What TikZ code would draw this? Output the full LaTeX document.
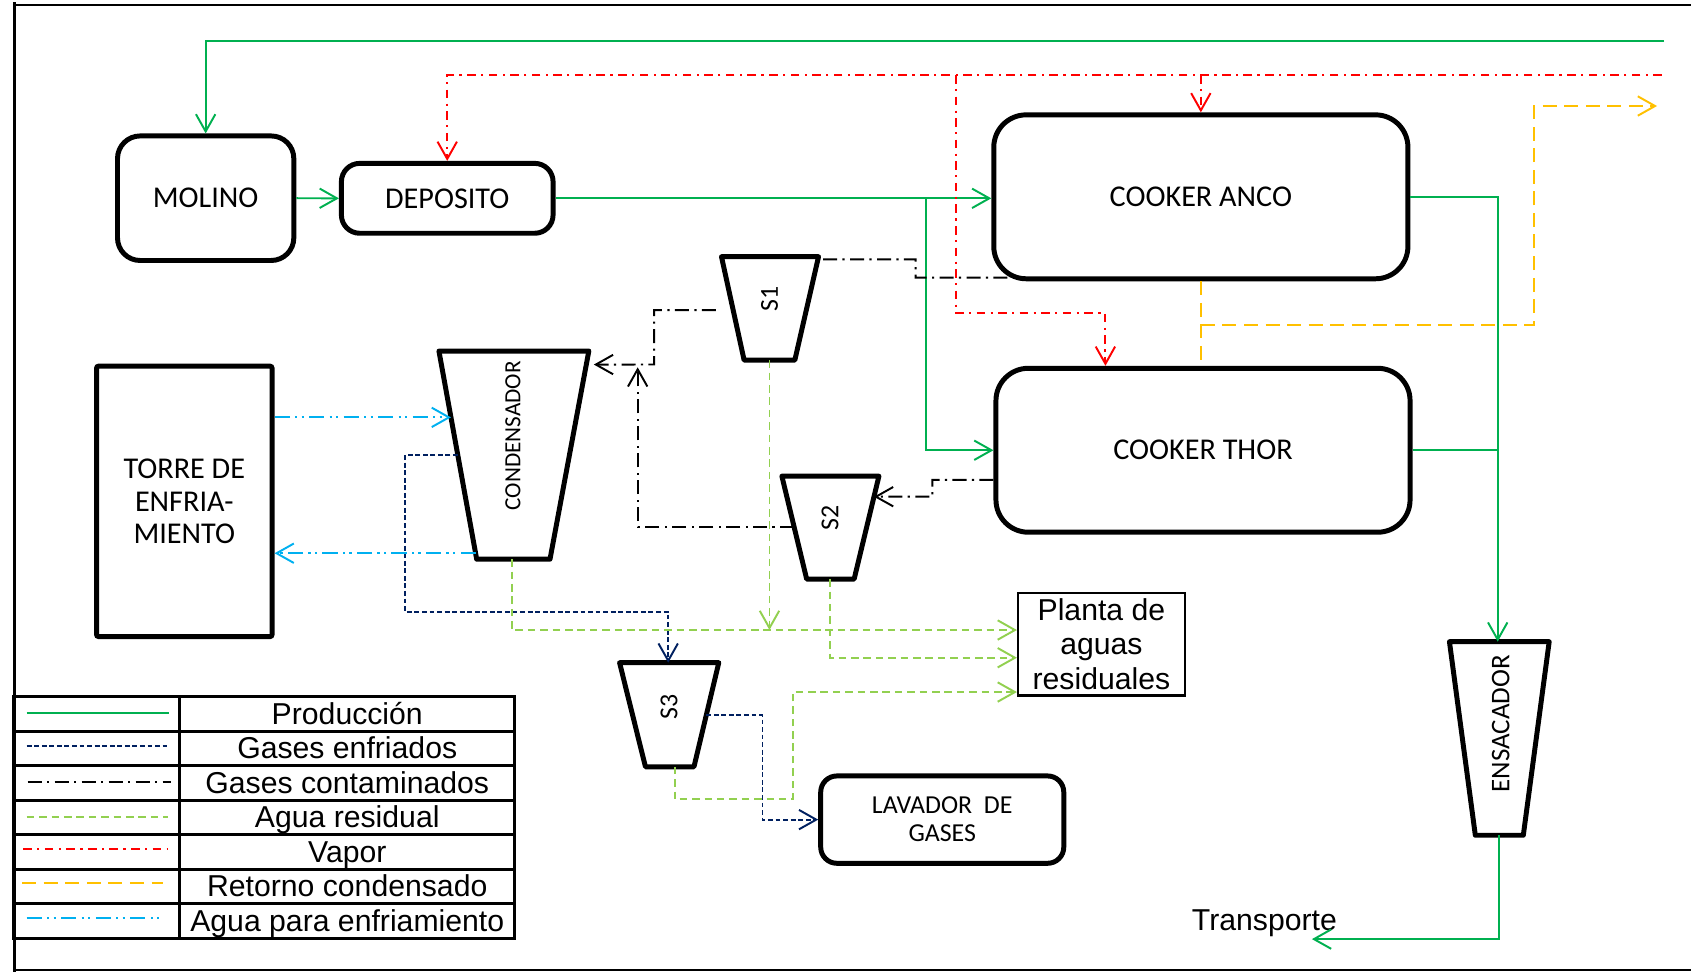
\documentclass[tikz,border=0pt]{standalone}
\usepackage{fontspec}
\setmainfont{Carlito}
\newfontfamily\arialfont{Liberation Sans}
\usetikzlibrary{arrows.meta,calc}
\definecolor{prodgreen}{RGB}{0,176,80}
\definecolor{gasnavy}{RGB}{0,32,96}
\definecolor{wastegreen}{RGB}{146,208,80}
\definecolor{steamred}{RGB}{255,0,0}
\definecolor{condorange}{RGB}{255,192,0}
\definecolor{coolblue}{RGB}{0,176,240}
\tikzset{
  procbox/.style={draw, fill=white, line width=4.6pt, align=center, inner sep=0pt,
    font=\fontsize{28}{30}\selectfont},
  vessel/.style={draw, fill=white, line width=4.6pt, line join=round},
  vlabel/.style={rotate=90, inner sep=0pt, font=\fontsize{24}{24}\selectfont},
  flow/.style={line width=1.8pt},
  flowtip/.style={-{Straight Barb[length=16pt,width=18pt]}},
  prod/.style={flow, draw=prodgreen},
  cooled/.style={flow, draw=gasnavy, dash pattern=on 4.5pt off 2.5pt},
  dirty/.style={flow, draw=black, dash pattern=on 13pt off 5pt on 2pt off 5pt},
  waste/.style={flow, draw=wastegreen, dash pattern=on 7pt off 4.5pt},
  steam/.style={flow, draw=steamred, dash pattern=on 8pt off 5pt on 2pt off 5pt},
  condret/.style={flow, draw=condorange, dash pattern=on 13pt off 7pt},
  coolw/.style={flow, draw=coolblue, dash pattern=on 14pt off 5pt on 2pt off 4pt on 2pt off 5pt},
  legrule/.style={line width=2.7pt},
  legtext/.style={anchor=base, inner sep=0pt, font=\arialfont\fontsize{28}{30}\selectfont},
}
\begin{document}
\begin{tikzpicture}[x=1pt,y=-1pt]
\useasboundingbox (0,0) rectangle (1568,901);

% outer frame
\draw[line width=3.5pt] (13.5,2) -- (13.5,901);
\draw[line width=2pt] (12,4.3) -- (1568,4.3);
\draw[line width=2pt] (12,899.4) -- (1568,899.4);

% process units
\node[procbox, minimum width=163.5, minimum height=115.5, rounded corners=21] (molino) at (190.7,183.8) {MOLINO};
\node[procbox, minimum width=196.3, minimum height=64.8, rounded corners=17] (depo) at (414.7,183.9) {DEPOSITO};
\node[procbox, minimum width=384, minimum height=152, rounded corners=30] (anco) at (1113.5,182.5) {COOKER ANCO};
\node[procbox, minimum width=384, minimum height=152, rounded corners=30] (thor) at (1115.5,417.5) {COOKER THOR};
\node[procbox, minimum width=162.8, minimum height=250.8, rounded corners=2] (torre) at (170.9,464.9) {TORRE DE\\ENFRIA-\\MIENTO};
\node[procbox, minimum width=225.4, minimum height=81, rounded corners=15, font=\fontsize{24}{26}\selectfont] (lavador) at (873.7,760) {LAVADOR\ \ DE\\GASES};
\node[procbox, line width=2pt, minimum width=154.7, minimum height=95.3, font=\arialfont\fontsize{28}{32}\selectfont] (planta) at (1021.3,597.3) {Planta de\\aguas\\residuales};

% hoppers and separators
\draw[vessel] (407,325.5) coordinate (condTL) -- (546,325.5) coordinate (condTR) -- (510,518.5) coordinate (condBR) -- (442,518.5) coordinate (condBL) -- cycle;
\node[vlabel, font=\fontsize{21.5}{22}\selectfont] (cond) at (475.5,404) {CONDENSADOR};
\draw[vessel] (669,238) coordinate (s1TL) -- (759,238) coordinate (s1TR) -- (737,334) coordinate (s1BR) -- (690,334) coordinate (s1BL) -- cycle;
\node[vlabel] (s1) at (713.5,277.3) {S1};
\draw[vessel] (725,441.5) coordinate (s2TL) -- (815,441.5) coordinate (s2TR) -- (792,537) coordinate (s2BR) -- (748,537) coordinate (s2BL) -- cycle;
\node[vlabel] (s2) at (769.7,480.6) {S2};
\draw[vessel] (574.5,614.5) coordinate (s3TL) -- (666.5,614.5) coordinate (s3TR) -- (643.5,711) coordinate (s3BR) -- (598.5,711) coordinate (s3BL) -- cycle;
\node[vlabel] (s3) at (620.4,655.3) {S3};
\draw[vessel] (1344,595) coordinate (ensTL) -- (1436.5,595) coordinate (ensTR) -- (1412.5,774.5) coordinate (ensBR) -- (1368,774.5) coordinate (ensBL) -- cycle;
\node[vlabel, font=\fontsize{25}{25}\selectfont] (ens) at (1391.6,671) {ENSACADOR};

\node[legtext] (transporte) at (1172.4,862.7) {Transporte};

% production line
\coordinate (feedIn) at (1543,37.7);
\draw[prod,flowtip] (feedIn) -| (molino.north);
\draw[prod,flowtip] (molino.east) -- (depo.west);
\draw[prod,flowtip] (depo.east) -- (depo.east -| anco.west);
\coordinate (prodSplit) at (859,183.9);
\draw[prod,flowtip] (prodSplit) |- (thor.west);
\coordinate (ensIn) at ($(ensTL)!0.484!(ensTR)$);
\draw[prod,flowtip] (anco.east) -| (ensIn);
\draw[prod] (thor.east) -- (thor.east -| ensIn);
\coordinate (ensOut) at ($(ensBL)!0.49!(ensBR)$);
\coordinate (transIn) at (1216.5,870.8);
\draw[prod,flowtip] (ensOut) |- (transIn);

% steam
\coordinate (steamIn) at (1541,69.5);
\draw[steam,flowtip] (steamIn) -| (depo.north);
\draw[steam,flowtip] (anco.north |- steamIn) -- (anco.north);
\coordinate (steamSplit) at (886.5,69.5);
\coordinate (steamBend) at (1025,290.5);
\draw[steam,flowtip] (steamSplit) |- (steamBend) -- (steamBend |- thor.north);

% condensate return
\draw[condret] (anco.south) -- (anco.south |- thor.north);
\coordinate (retJoin) at (1113.5,301.4);
\coordinate (retUp) at (1422.5,98.3);
\coordinate (retOut) at (1536.5,98.3);
\draw[condret,flowtip] (retJoin) -| (retUp) -- (retOut);

% contaminated gases
\coordinate (ancoGas) at ($(anco.south west)+(15,-3.3)$);
\coordinate (s1GasIn) at ($(s1TR)!0.026!(s1BR)$);
\coordinate (gasKnee) at (849,240.5);
\draw[dirty] (ancoGas) -| (gasKnee) -- (s1GasIn);
\coordinate (s1GasOut) at ($(s1TL)!0.516!(s1BL)$);
\coordinate (condGasIn) at ($(condTR)!0.065!(condBR)$);
\coordinate (gasDrop) at (606.5,338);
\draw[dirty,flowtip,shorten <=16pt,shorten >=7pt] (s1GasOut) -| (gasDrop) -- (condGasIn);
\coordinate (s2GasOut) at ($(s2TL)!0.49!(s2BL)$);
\coordinate (gasRise) at (591.3,340.6);
\draw[dirty,flowtip] (s2GasOut) -| (gasRise);
\coordinate (thorGas) at ($(thor.west)+(0,27.5)$);
\coordinate (s2GasIn) at ($(s2TR)!0.2!(s2BR)$);
\coordinate (gasStep) at (864.5,460.5);
\draw[dirty,flowtip] (thorGas) -| (gasStep) -- (s2GasIn);

% cooled gases
\coordinate (condCool) at ($(condTL)!0.5!(condBL)$);
\coordinate (coolKnee) at (375.5,567.2);
\coordinate (s3In) at ($(s3TL)!0.49!(s3TR)$);
\draw[cooled,flowtip] (condCool) -| (coolKnee) -| (s3In);
\coordinate (s3Out) at ($(s3TR)!0.506!(s3BR)$);
\coordinate (lavKnee) at (707,760);
\draw[cooled,flowtip] (s3Out) -| (lavKnee) -- (lavador.west);

% waste water
\coordinate (condWaste) at ($(condBL)!0.48!(condBR)$);
\coordinate (wasteRow) at ($(planta.west)+(0,-13.1)$);
\draw[waste,flowtip] (condWaste) |- (wasteRow);
\coordinate (s1Waste) at ($(s1BL)!0.5!(s1BR)$);
\draw[waste,flowtip] (s1Waste) -- (s1Waste |- wasteRow);
\coordinate (s2Waste) at ($(s2BL)!0.5!(s2BR)$);
\draw[waste,flowtip] (s2Waste) |- ($(planta.west)+(0,12.6)$);
\coordinate (s3Waste) at ($(s3BL)!0.61!(s3BR)$);
\coordinate (wasteKnee) at (734.9,741.2);
\draw[waste,flowtip] (s3Waste) |- (wasteKnee) |- ($(planta.west)+(0,44.4)$);

% cooling water loop
\coordinate (condCoolIn) at ($(condTL)!0.3187!(condBL)$);
\draw[coolw,flowtip] (torre.east |- condCoolIn) -- (condCoolIn);
\coordinate (condCoolOut) at ($(condTL)!0.9715!(condBL)$);
\draw[coolw,flowtip] (condCoolOut) -- (condCoolOut -| torre.east);

% legend
\draw[legrule] (12.6,646) rectangle (476.9,870);
\foreach \yy in {678,710,742,774,806,838} \draw[legrule] (12.6,\yy) -- (476.9,\yy);
\draw[legrule] (166.2,646) -- (166.2,870);
\draw[prod] (24.8,661.5) -- (156.3,661.5);
\draw[cooled] (24.8,691.8) -- (156,691.8);
\draw[dirty] (25.7,725.5) -- (158.1,725.5);
\draw[waste] (24.8,757.3) -- (156,757.3);
\draw[steam] (21.5,787.6) -- (154.8,787.6);
\draw[condret] (20.5,819.1) -- (151.4,819.1);
\draw[coolw] (24.8,851) -- (150.7,851);
\node[legtext] (lg1) at (322,671.5) {Producción};
\node[legtext] (lg2) at (322,703.5) {Gases enfriados};
\node[legtext] (lg3) at (322,735.5) {Gases contaminados};
\node[legtext] (lg4) at (322,767.5) {Agua residual};
\node[legtext] (lg5) at (322,799.5) {Vapor};
\node[legtext] (lg6) at (322,831.5) {Retorno condensado};
\node[legtext] (lg7) at (322,863.5) {Agua para enfriamiento};
\end{tikzpicture}
\end{document}
